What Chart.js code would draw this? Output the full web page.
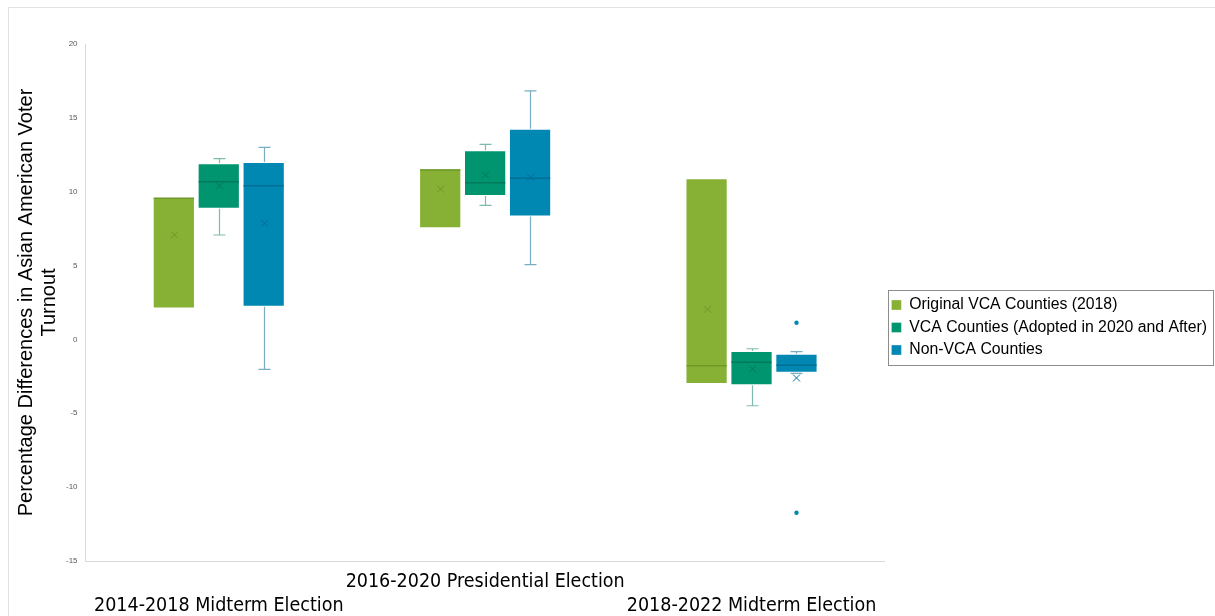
<!DOCTYPE html>
<html>
<head>
<meta charset="utf-8">
<script src="https://cdn.jsdelivr.net/npm/chart.js@4.4.1/dist/chart.umd.min.js"></script>
<style>
  html, body { margin: 0; padding: 0; background: #ffffff; }
  #wrap { position: relative; width: 1215px; height: 616px; overflow: hidden; }
  #frame { position: absolute; left: 8px; top: 7px; width: 1215px; height: 616px;
           border-top: 1px solid #e2e2e2; border-left: 1px solid #e2e2e2; box-sizing: border-box; }
  #c { position: absolute; left: 0; top: 0; }
</style>
</head>
<body>
<div id="wrap">
  <div id="frame"></div>
  <canvas id="c" width="1215" height="616"></canvas>
</div>
<script>
// ---- DATA ----
const categories = ['2014-2018 Midterm Election', '2016-2020 Presidential Election', '2018-2022 Midterm Election'];
const seriesNames = ['Original VCA Counties (2018)', 'VCA Counties (Adopted in 2020 and After)', 'Non-VCA Counties'];
// each entry: [min, q1, median, q3, max, mean]
const originalVcaBoxes = [
  [2.10, 2.10, 9.55, 9.65, 9.65, 7.07],
  [7.52, 7.52, 11.47, 11.58, 11.58, 10.18],
  [-3.02, -3.02, -1.78, 10.91, 10.91, 2.04]
];
const vca2020Boxes = [
  [7.07, 8.85, 10.68, 11.92, 12.24, 10.39],
  [9.08, 9.71, 10.61, 12.80, 13.21, 11.13],
  [-4.49, -3.11, -1.55, -0.79, -0.63, -2.00]
];
const nonVcaBoxes = [
  [-2.03, 2.22, 10.41, 12.01, 13.00, 7.86],
  [5.06, 8.33, 10.91, 14.27, 16.82, 10.97],
  [-2.30, -2.25, -1.75, -0.97, -0.83, -2.61]
];
const originalVcaOutliers = [[], [], []];
const vca2020Outliers = [[], [], []];
const nonVcaOutliers = [[], [], [1.13, -11.73]];
const yTicks = [-15, -10, -5, 0, 5, 10, 15, 20];

// ---- STYLES ----
const fills = ['#86B135', '#00946F', '#0087B2'];
const darks = ['#6E9828', '#007A5B', '#006F94'];
const whiskers = ['rgba(120,160,50,0.75)', 'rgba(40,140,120,0.6)', 'rgba(30,120,150,0.6)'];
const allBoxes = [originalVcaBoxes, vca2020Boxes, nonVcaBoxes];
const allOutliers = [originalVcaOutliers, vca2020Outliers, nonVcaOutliers];

const labels = categories.map((c, i) => (i % 2 === 1 ? [c, ''] : ['', c]));

const datasets = seriesNames.map((name, s) => ({
  label: name,
  data: allBoxes[s].map(b => [b[1], b[3]]),
  backgroundColor: fills[s],
  borderColor: 'rgba(255,255,255,0.35)',
  borderWidth: 1,
  borderSkipped: false,
  categoryPercentage: 0.506,
  barPercentage: 0.94
}));

const boxPlugin = {
  id: 'boxParts',
  afterDatasetsDraw(chart) {
    const ctx = chart.ctx;
    const y = chart.scales.y;
    allBoxes.forEach((boxes, s) => {
      const meta = chart.getDatasetMeta(s);
      boxes.forEach((b, j) => {
        const el = meta.data[j];
        if (!el) return;
        const x = Math.round(el.x) + 0.5, w = el.width;
        const [mn, q1, med, q3, mx, mean] = b;
        const capW = 12;
        ctx.save();
        ctx.strokeStyle = whiskers[s];
        ctx.lineWidth = 1.2;
        if (mx > q3) {
          ctx.beginPath();
          ctx.moveTo(x, y.getPixelForValue(q3));
          ctx.lineTo(x, y.getPixelForValue(mx));
          ctx.moveTo(x - capW / 2, y.getPixelForValue(mx));
          ctx.lineTo(x + capW / 2, y.getPixelForValue(mx));
          ctx.stroke();
        }
        if (mn < q1) {
          ctx.beginPath();
          ctx.moveTo(x, y.getPixelForValue(q1));
          ctx.lineTo(x, y.getPixelForValue(mn));
          ctx.moveTo(x - capW / 2, y.getPixelForValue(mn));
          ctx.lineTo(x + capW / 2, y.getPixelForValue(mn));
          ctx.stroke();
        }
        // median
        ctx.strokeStyle = darks[s];
        ctx.lineWidth = 1.5;
        ctx.beginPath();
        ctx.moveTo(el.x - w / 2 + 1, y.getPixelForValue(med));
        ctx.lineTo(el.x + w / 2 - 1, y.getPixelForValue(med));
        ctx.stroke();
        // mean marker (x)
        const my = y.getPixelForValue(mean);
        const r = 3.5;
        ctx.lineWidth = 1;
        ctx.beginPath();
        ctx.moveTo(x - r, my - r); ctx.lineTo(x + r, my + r);
        ctx.moveTo(x - r, my + r); ctx.lineTo(x + r, my - r);
        ctx.stroke();
        // outliers
        ctx.fillStyle = fills[s];
        allOutliers[s][j].forEach(v => {
          ctx.beginPath();
          ctx.arc(x, y.getPixelForValue(v), 2.2, 0, Math.PI * 2);
          ctx.fill();
        });
        ctx.restore();
      });
    });
  }
};

const legendPlace = {
  id: 'legendPlace',
  afterLayout(chart) {
    const lg = chart.legend;
    if (!lg) return;
    lg.top -= 8;
    lg.bottom -= 8;
  },
  afterDraw(chart) {
    const lg = chart.legend;
    if (!lg || !lg.legendHitBoxes || !lg.legendHitBoxes.length) return;
    const hb = lg.legendHitBoxes;
    const l = Math.min(...hb.map(h => h.left)) - 3;
    const t = Math.min(...hb.map(h => h.top)) - 7;
    const r = Math.max(...hb.map(h => h.left + h.width)) + 6;
    const b = Math.max(...hb.map(h => h.top + h.height)) + 7;
    const ctx = chart.ctx;
    ctx.save();
    ctx.strokeStyle = '#8c8c8c';
    ctx.lineWidth = 1;
    ctx.strokeRect(Math.round(l) + 0.5, Math.round(t) + 0.5, Math.round(r - l), Math.round(b - t));
    ctx.restore();
  }
};

new Chart(document.getElementById('c'), {
  type: 'bar',
  data: { labels, datasets },
  plugins: [boxPlugin, legendPlace],
  options: {
    responsive: false,
    animation: false,
    layout: { padding: { top: 44, left: 15, right: -2, bottom: -11 } },
    plugins: {
      tooltip: { enabled: false },
      legend: {
        position: 'right',
        maxWidth: 420,
        labels: {
          boxWidth: 10, boxHeight: 10, padding: 6.7, color: '#000000',
          font: { family: "'Liberation Sans', Arial, sans-serif", size: 15.8 }
        }
      }
    },
    scales: {
      x: {
        grid: { display: false, drawTicks: false },
        border: { display: true, color: '#d9d9d9' },
        ticks: {
          autoSkip: false, maxRotation: 0, minRotation: 0, padding: 9, color: '#000000',
          font: { family: "'DejaVu Sans Condensed', 'Liberation Sans Narrow', sans-serif", size: 19.5, lineHeight: '24px' }
        }
      },
      y: {
        min: -15, max: 20,
        afterBuildTicks(scale) { scale.ticks = yTicks.map(v => ({ value: v })); },
        grid: { display: false, drawTicks: false },
        border: { display: true, color: '#d9d9d9' },
        ticks: {
          padding: 8, color: '#595959',
          font: { family: "'Liberation Sans', Arial, sans-serif", size: 8 }
        },
        title: {
          display: true,
          text: ['Percentage Differences in Asian American Voter', 'Turnout'],
          color: '#000000',
          padding: { top: 0, bottom: -3 },
          font: { family: "'Liberation Sans', Arial, sans-serif", size: 20, lineHeight: 1.15 }
        }
      }
    }
  }
});
</script>
</body>
</html>
